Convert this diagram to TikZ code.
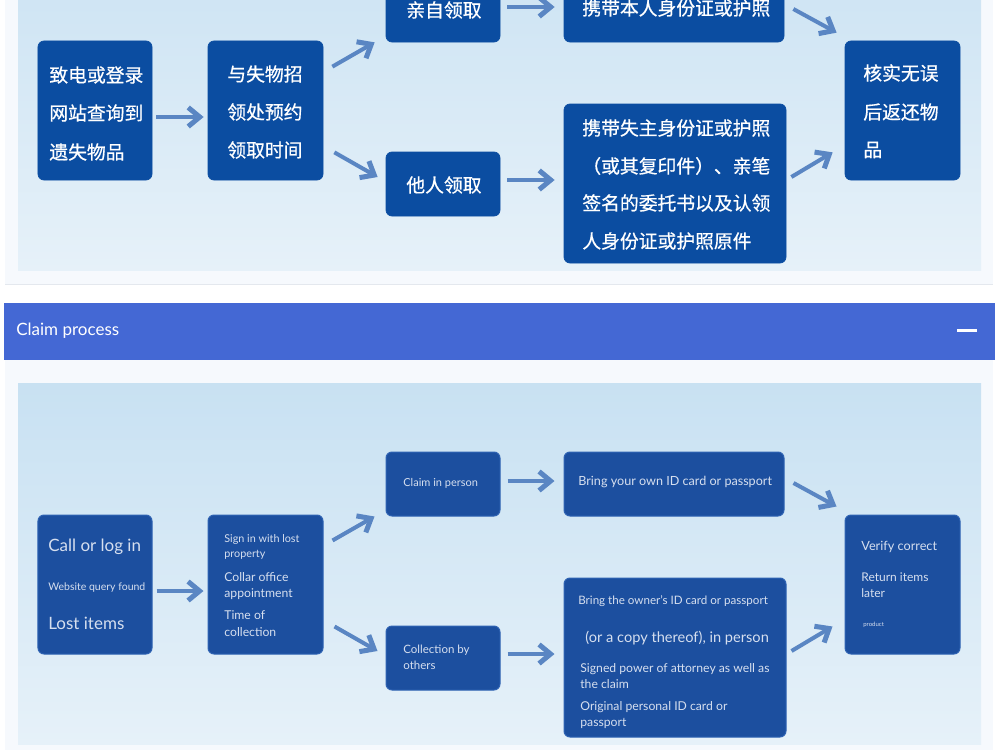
\documentclass[tikz,border=0pt]{standalone}
\usepackage{fontspec}
\setmainfont{Lato}
\newfontfamily\cjk[FakeBold=0.7]{Noto Sans CJK SC}
\usetikzlibrary{arrows.meta,calc}

\definecolor{pagebg}{HTML}{FFFFFF}
\definecolor{panelbg}{HTML}{F6F9FD}
\definecolor{panelline}{HTML}{E4E8EE}
\definecolor{skytop}{HTML}{C8E1F2}
\definecolor{skybot}{HTML}{E6F1F9}
\definecolor{headerblue}{HTML}{4468D4}
\definecolor{boxtop}{HTML}{0B4DA1}
\definecolor{boxbot}{HTML}{1C4F9F}
\definecolor{boxedge}{HTML}{2F63B3}
\definecolor{arrowblue}{HTML}{5A86C3}
\definecolor{softwhite}{HTML}{D6DFEF}

% font sizes given in pixels of the 1000-wide layout (1px = 0.2mm = 0.569pt)
\newcommand{\pxfont}[1]{\fontsize{\fpeval{#1*0.569}}{\fpeval{#1*0.569*1.2}}\selectfont}

\begin{document}
\begin{tikzpicture}[x=0.2mm,y=-0.2mm,
  cnbox/.style={fill=boxtop,draw=boxtop,rounded corners=1.2mm,inner sep=0pt},
  enbox/.style={fill=boxbot,draw=boxedge,line width=0.2mm,rounded corners=1.2mm,inner sep=0pt},
  cntext/.style={anchor=west,inner sep=0pt,text=white,font=\cjk\pxfont{18.8}},
  entext/.style={anchor=mid west,inner sep=0pt,text=softwhite},
  flow/.style={draw=arrowblue,line width=0.8mm,
    -{Straight Barb[length=2.3mm,width=3.8mm,line width=1mm]}},
  wide/.style={minimum width=22.8mm,minimum height=27.8mm},
  short/.style={minimum width=22.8mm,minimum height=12.8mm}]

\useasboundingbox (0,0) rectangle (1000,750);
\clip (0,0) rectangle (1000,750);
\fill[pagebg] (0,0) rectangle (1000,750);

% ---------- Chinese panel ----------
\fill[panelbg] (5,-10) rectangle (993,284);
\draw[panelline,line width=0.3mm] (5,284.5) -- (993,284.5);
\shade[top color=skytop,bottom color=skybot] (18,-91) rectangle (981,270);

\node[cnbox,wide] (A) at (95,110.5) {};
\node[cnbox,minimum width=23mm,minimum height=27.8mm] (B) at (265.5,110.5) {};
\node[cnbox,short] (C) at (443,10) {};
\node[cnbox,short] (D) at (443,184) {};
\node[cnbox,minimum width=44mm,minimum height=12.8mm] (E) at (674,10) {};
\node[cnbox,minimum width=44.4mm,minimum height=31.8mm] (F) at (675,183.5) {};
\node[cnbox,minimum width=23mm,minimum height=27.8mm] (G) at (902.5,110.5) {};

\node[cntext] (a1) at (49,75) {致电或登录};
\node[cntext] (a2) at (49,113) {网站查询到};
\node[cntext] (a3) at (49,152) {遗失物品};
\node[cntext] (b1) at (227,74) {与失物招};
\node[cntext] (b2) at (227,112) {领处预约};
\node[cntext] (b3) at (227,150) {领取时间};
\node[cntext] (c1) at (406,10) {亲自领取};
\node[cntext] (d1) at (406,185) {他人领取};
\node[cntext] (e1) at (582,8) {携带本人身份证或护照};
\node[cntext] (f1) at (582,128) {携带失主身份证或护照};
\node[cntext] (f2) at (582,166) {（或其复印件）、亲笔};
\node[cntext] (f3) at (582,203) {签名的委托书以及认领};
\node[cntext] (f4) at (582,241) {人身份证或护照原件};
\node[cntext] (g1) at (863,73) {核实无误};
\node[cntext] (g2) at (863,112) {后返还物};
\node[cntext] (g3) at (863,150) {品};

\draw[flow] ($(A.east)+(4,6.5)$) -- ($(B.west)+(-4,6.5)$);
\draw[flow] ($(B.north east)+(9,26)$) -- ($(C.south west)+(-11,0)$);
\draw[flow] ($(B.south east)+(11,-28)$) -- ($(D.west)+(-8,-7)$);
\draw[flow] ($(C.east)+(7,-3)$) -- ($(E.west)+(-9,-3)$);
\draw[flow] ($(D.east)+(7,-4)$) -- ($(F.west)+(-9,-3.5)$);
\draw[flow] ($(E.east)+(9,-1)$) -- ($(G.north west)+(-8,-8)$);
\draw[flow] ($(F.east)+(5,-6.5)$) -- ($(G.south west)+(-12,-28)$);

% ---------- header bar ----------
\fill[headerblue] (4,303) rectangle (995,360);
\node[anchor=mid west,inner sep=0pt,text=white,font=\pxfont{17}] (title) at (16,331) {Claim process};
\fill[white] (957,328.5) rectangle (977,332);

% ---------- English panel ----------
\fill[panelbg] (5,360) rectangle (993,750);
\shade[top color=skytop,bottom color=skybot] (18,383) rectangle (981,744);

\node[enbox,wide] (A2) at (95,584.5) {};
\node[enbox,minimum width=23mm,minimum height=27.8mm] (B2) at (265.5,584.5) {};
\node[enbox,short] (C2) at (443,484) {};
\node[enbox,short] (D2) at (443,658) {};
\node[enbox,minimum width=44mm,minimum height=12.8mm] (E2) at (674,484) {};
\node[enbox,minimum width=44.4mm,minimum height=31.8mm] (F2) at (675,657.5) {};
\node[enbox,minimum width=23mm,minimum height=27.8mm] (G2) at (902.5,584.5) {};

\node[entext,font=\pxfont{17}] (t1) at (48,547) {Call or log in};
\node[entext,font=\pxfont{10.5}] (t2) at (48,586) {Website query found};
\node[entext,font=\pxfont{17}] (t3) at (48,625) {Lost items};
\node[entext,font=\pxfont{10.8}] (t4) at (224,538) {Sign in with lost};
\node[entext,font=\pxfont{10.8}] (t5) at (224,553) {property};
\node[entext,font=\pxfont{12.2}] (t6) at (224,577) {Collar office};
\node[entext,font=\pxfont{12.2}] (t7) at (224,593) {appointment};
\node[entext,font=\pxfont{12.2}] (t8) at (224,615) {Time of};
\node[entext,font=\pxfont{12.2}] (t9) at (224,632) {collection};
\node[entext,font=\pxfont{11}] (t10) at (403,482) {Claim in person};
\node[entext,font=\pxfont{11.5}] (t11) at (403,649) {Collection by};
\node[entext,font=\pxfont{11.5}] (t12) at (403,665) {others};
\node[entext,font=\pxfont{12.6}] (t13) at (578,481) {Bring your own ID card or passport};
\node[entext,font=\pxfont{11.6}] (t14) at (578,600) {Bring the owner’s ID card or passport};
\node[entext,font=\pxfont{14.6}] (t15) at (585,638) {(or a copy thereof), in person};
\node[entext,font=\pxfont{12.2}] (t16) at (580,668) {Signed power of attorney as well as};
\node[entext,font=\pxfont{12.2}] (t17) at (580,684) {the claim};
\node[entext,font=\pxfont{12.2}] (t18) at (580,706) {Original personal ID card or};
\node[entext,font=\pxfont{12.2}] (t19) at (580,722) {passport};
\node[entext,font=\pxfont{12.7}] (t20) at (861,546) {Verify correct};
\node[entext,font=\pxfont{12}] (t21) at (861,577) {Return items};
\node[entext,font=\pxfont{12}] (t22) at (861,593) {later};
\node[entext,font=\pxfont{6}] (t23) at (863,622) {product};

\draw[flow] ($(A2.east)+(4,6.5)$) -- ($(B2.west)+(-4,6.5)$);
\draw[flow] ($(B2.north east)+(9,26)$) -- ($(C2.south west)+(-11,0)$);
\draw[flow] ($(B2.south east)+(11,-28)$) -- ($(D2.west)+(-8,-7)$);
\draw[flow] ($(C2.east)+(7,-3)$) -- ($(E2.west)+(-9,-3)$);
\draw[flow] ($(D2.east)+(7,-4)$) -- ($(F2.west)+(-9,-3.5)$);
\draw[flow] ($(E2.east)+(9,-1)$) -- ($(G2.north west)+(-8,-8)$);
\draw[flow] ($(F2.east)+(5,-6.5)$) -- ($(G2.south west)+(-12,-28)$);
\end{tikzpicture}
\end{document}
